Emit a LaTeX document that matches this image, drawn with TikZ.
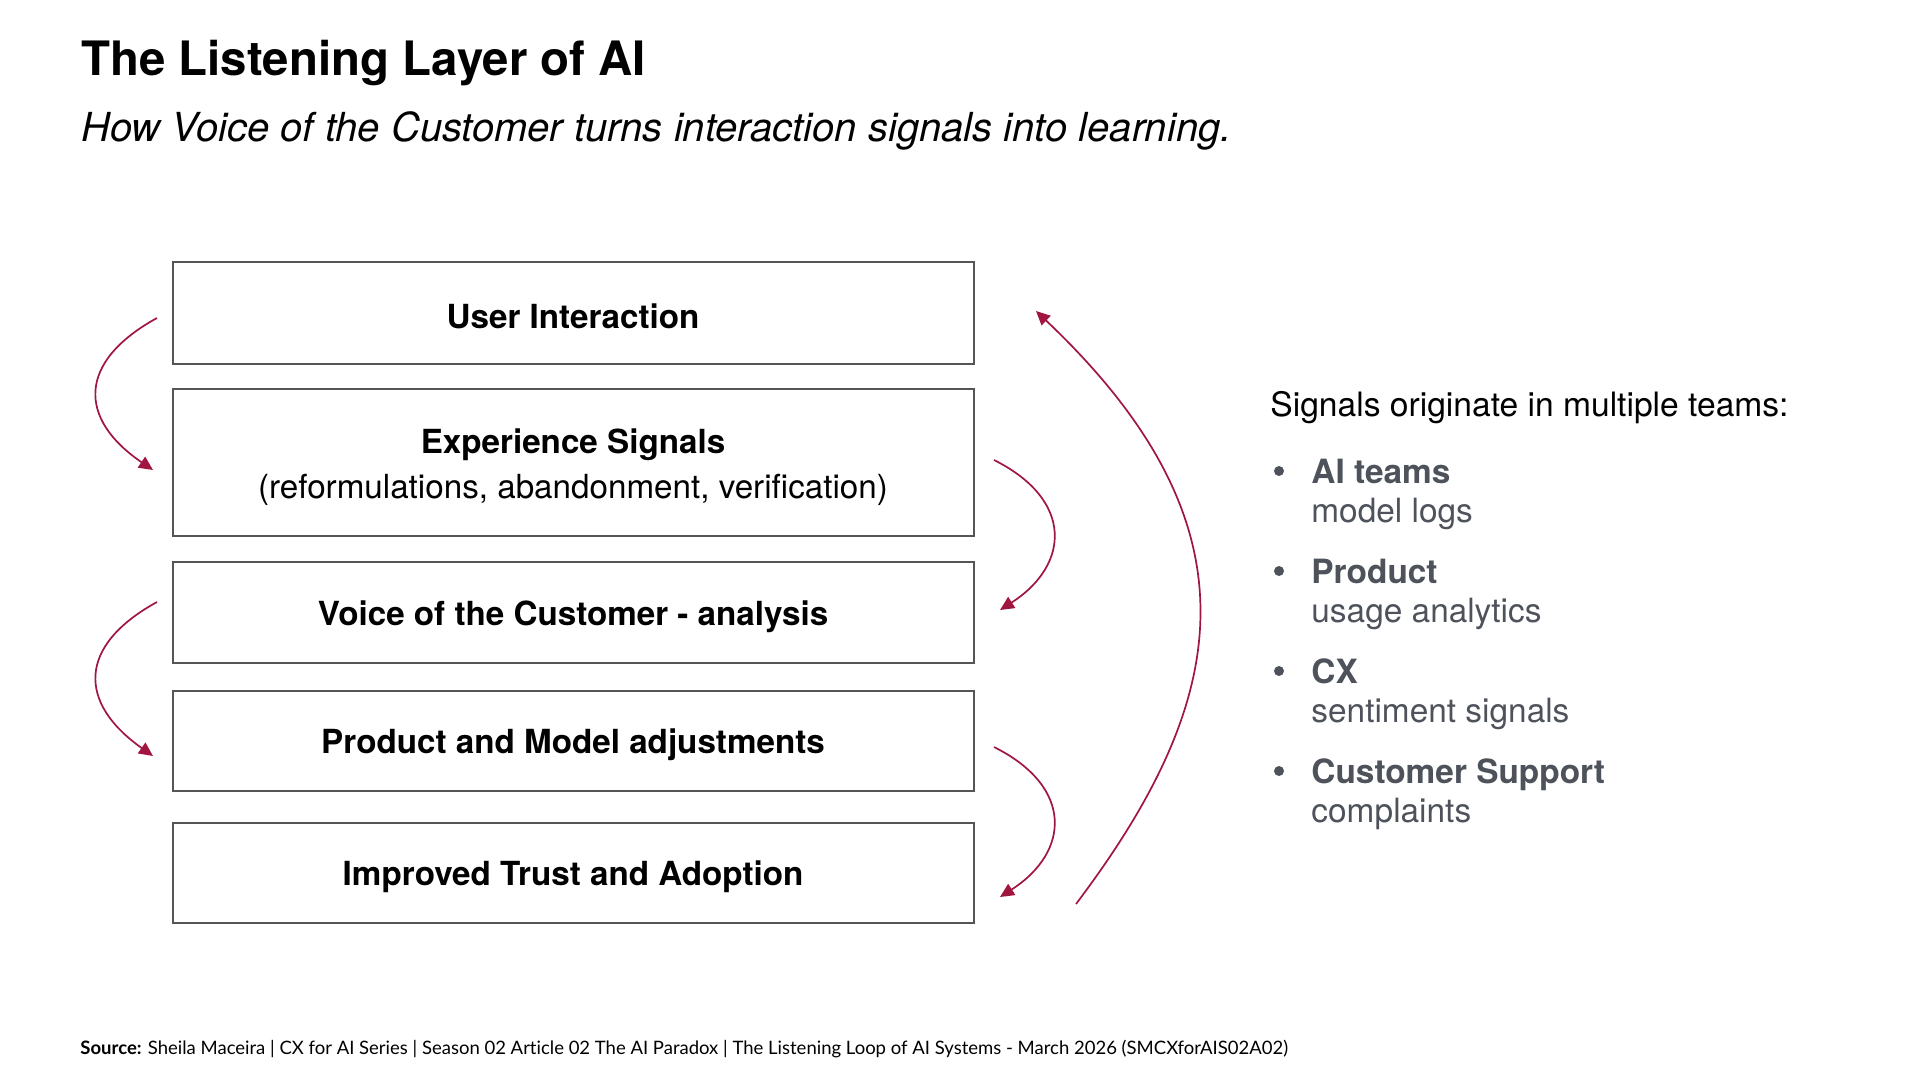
\documentclass[tikz,border=0pt]{standalone}
\usepackage{fontspec}
\setmainfont{TeX Gyre Heros}
\newfontfamily\footfont[Ligatures=NoCommon]{Lato}
\usetikzlibrary{arrows.meta}

\definecolor{loopred}{RGB}{161,22,64}
\definecolor{boxgray}{RGB}{85,85,85}
\definecolor{teamgray}{RGB}{78,83,91}

\begin{document}
\begin{tikzpicture}[x=0.5pt, y=0.5pt,
    layer/.style={draw=boxgray, line width=1pt, rectangle, minimum width=400.5pt,
      inner sep=0pt, align=center, font=\fontsize{16.6}{22.5}\selectfont},
    loop/.style={draw=loopred, line width=0.85pt, -{Triangle[length=7pt, width=6.5pt]}},
    team/.style={anchor=base west, inner sep=0pt, text=teamgray,
      font=\fontsize{16.7}{20}\selectfont},
    teamdot/.style={fill=teamgray, circle, inner sep=0pt, minimum size=5pt}]

     \fill [white] (0, 0) rectangle (1920, -1080);
     \useasboundingbox (0, 0) rectangle (1920, -1080);

     % heading
     \node (title) at (81, -76) [anchor=base west, inner sep=0pt,
       font=\fontsize{23.7}{28}\selectfont\bfseries] {The Listening Layer of AI};
     \node (subtitle) at (81, -142) [anchor=base west, inner sep=0pt,
       font=\fontsize{20}{24}\selectfont\itshape]
       {How Voice of the Customer turns interaction signals into learning.};

     % the five layers
     \node (ui) at (573, -312.9) [layer, minimum height=50.85pt] {\rule{0pt}{15.5pt}\bfseries User Interaction};
     \node (es) at (573, -462.9) [layer, minimum height=73.5pt]
       {\rule{0pt}{16.5pt}\bfseries Experience Signals\\(reformulations, abandonment, verification)};
     \node (voc) at (573, -612.3) [layer, minimum height=50.25pt] {\rule{0pt}{16.5pt}\bfseries Voice of the Customer - analysis};
     \node (pm) at (573, -740.8) [layer, minimum height=50.2pt] {\rule{0pt}{16.5pt}\bfseries Product and Model adjustments};
     \node (ta) at (573, -873.1) [layer, minimum height=50.2pt] {\rule{0pt}{16.5pt}\bfseries Improved Trust and Adoption};

     % loop ends
     \coordinate (a1) at (157, -318);
     \coordinate (a2) at (153, -470);
     \coordinate (b1) at (157, -602);
     \coordinate (b2) at (153, -756);
     \coordinate (c1) at (994, -460);
     \coordinate (c2) at (1000, -610);
     \coordinate (d1) at (994, -747);
     \coordinate (d2) at (1000, -897);
     \coordinate (e1) at (1076, -904);
     \coordinate (e2) at (1036, -311);

     \draw [loop] (a1) .. controls (77, -362) and (78, -419) .. (a2);
     \draw [loop] (b1) .. controls (77, -646) and (78, -703) .. (b2);
     \draw [loop] (c1) .. controls (1074, -500) and (1070, -565) .. (c2);
     \draw [loop] (d1) .. controls (1074, -787) and (1070, -852) .. (d2);
     \draw [loop] (e1) .. controls (1230, -700) and (1264, -527) .. (e2);

     % teams
     \node (teams) at (1270, -416) [anchor=base west, inner sep=0pt,
       font=\fontsize{16.8}{20}\selectfont] {Signals originate in multiple teams:};

     \node (t1) at (1311, -483) [team] {\bfseries AI teams};
     \node (t1s) at (1311, -522) [team] {model logs};
     \node (t2) at (1311, -583) [team] {\bfseries Product};
     \node (t2s) at (1311, -622) [team] {usage analytics};
     \node (t3) at (1311, -683) [team] {\bfseries CX};
     \node (t3s) at (1311, -722) [team] {sentiment signals};
     \node (t4) at (1311, -783) [team] {\bfseries Customer Support};
     \node (t4s) at (1311, -822) [team] {complaints};

     \node (dot1) at (1279, -471) [teamdot] {};
     \node (dot2) at (1279, -571) [teamdot] {};
     \node (dot3) at (1279, -671) [teamdot] {};
     \node (dot4) at (1279, -771) [teamdot] {};

     % source line
     \node (source) at (80, -1054) [anchor=base west, inner sep=0pt,
       font=\footfont\fontsize{9.25}{11}\selectfont]
       {\textbf{Source:} Sheila Maceira | CX for AI Series | Season 02 Article 02 The AI Paradox | The Listening Loop of AI Systems - March 2026 (SMCXforAIS02A02)};

 \end{tikzpicture}
\end{document}
